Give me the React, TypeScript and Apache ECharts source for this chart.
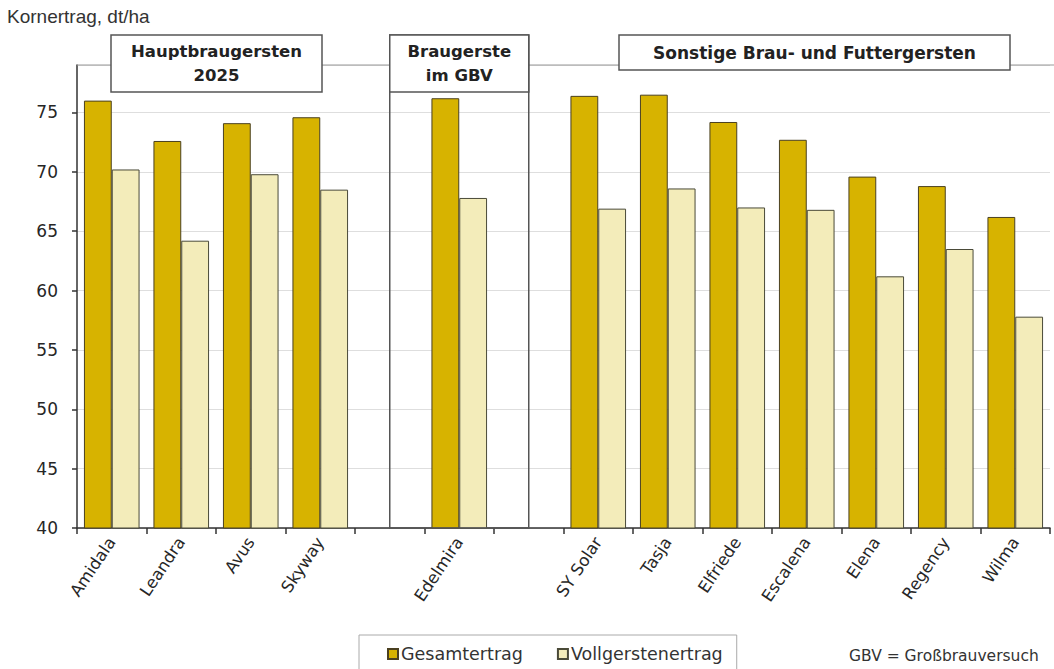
import React, { useEffect, useRef } from "react";
import * as echarts from "echarts";

const categories = [
  "Amidala", "Leandra", "Avus", "Skyway", "", "Edelmira", "",
  "SY Solar", "Tasja", "Elfriede", "Escalena", "Elena", "Regency", "Wilma",
];
const gesamtertrag = [76.0, 72.6, 74.1, 74.6, null, 76.2, null, 76.4, 76.5, 74.2, 72.7, 69.6, 68.8, 66.2];
const vollgerstenertrag = [70.2, 64.2, 69.8, 68.5, null, 67.8, null, 66.9, 68.6, 67.0, 66.8, 61.2, 63.5, 57.8];
const yTicks = { min: 40, max: 79, interval: 5 };

const FONT = "DejaVu Sans, Verdana, sans-serif";

export default function App() {
  const ref = useRef<HTMLDivElement>(null);
  useEffect(() => {
    if (!ref.current) return;
    const chart = echarts.init(ref.current, null, { renderer: "svg" });
    const gridLeft = 77, gridRight = 4, gridTop = 65, gridBottom = 141;
    const plotW = 1054 - gridLeft - gridRight;
    const slot = plotW / categories.length;
    const cx = (i: number) => gridLeft + slot * (i + 0.5);
    const boxStroke = "#555";
    chart.setOption({
      animation: false,
      backgroundColor: "#fff",
      grid: { left: gridLeft, right: gridRight, top: gridTop, bottom: gridBottom },
      xAxis: {
        type: "category",
        data: categories,
        axisLine: { lineStyle: { color: "#333", width: 1.5 } },
        axisTick: { show: true, length: 6, lineStyle: { color: "#333", width: 1.5 } },
        axisLabel: {
          rotate: 56,
          interval: 0,
          fontSize: 16.5,
          fontFamily: FONT,
          color: "#262626",
          margin: 11,
        },
      },
      yAxis: {
        type: "value",
        min: yTicks.min,
        max: yTicks.max,
        interval: yTicks.interval,
        axisLine: { show: true, lineStyle: { color: "#333", width: 1.5 } },
        axisTick: { show: true, length: 5, lineStyle: { color: "#333", width: 1.5 } },
        axisLabel: {
          fontSize: 17,
          fontFamily: FONT,
          color: "#262626",
          margin: 19,
          showMaxLabel: false,
        },
        splitLine: { lineStyle: { color: "#dedede", width: 1 } },
      },
      legend: {
        left: 359,
        top: 635,
        data: ["Gesamtertrag", "Vollgerstenertrag"],
        icon: "rect",
        itemWidth: 10,
        itemHeight: 10,
        itemGap: 34,
        padding: [10, 14, 16, 28],
        borderColor: "#aaa",
        borderWidth: 1,
        textStyle: { fontSize: 17.5, fontFamily: FONT, color: "#333", padding: [0, 0, 0, -2] },
      },
      series: [
        {
          name: "Gesamtertrag",
          type: "bar",
          data: gesamtertrag,
          barGap: "0%",
          barCategoryGap: "20%",
          itemStyle: { color: "#D7B300", borderColor: "#4a4020", borderWidth: 1 },
        },
        {
          name: "Vollgerstenertrag",
          type: "bar",
          data: vollgerstenertrag,
          itemStyle: { color: "#F3ECBA", borderColor: "#4a4a38", borderWidth: 1 },
        },
      ],
      graphic: [
        {
          type: "text",
          left: 7,
          top: 7,
          style: { text: "Kornertrag, dt/ha", fontSize: 19, fontFamily: "Liberation Sans Narrow, Arial Narrow, sans-serif", fill: "#333" },
        },
        {
          type: "line",
          shape: { x1: gridLeft, y1: gridTop, x2: 1054, y2: gridTop },
          style: { stroke: "#999", lineWidth: 1 },
          z: 50,
        },
        // GBV tall frame
        {
          type: "rect",
          shape: { x: cx(4), y: 35, width: cx(6) - cx(4), height: 528 - 35 },
          style: { fill: "none", stroke: boxStroke, lineWidth: 1.5 },
          z: 60,
        },
        {
          type: "rect",
          shape: { x: cx(4), y: 35, width: cx(6) - cx(4), height: 57 },
          style: { fill: "#fff", stroke: boxStroke, lineWidth: 1.5 },
          z: 61,
        },
        {
          type: "text",
          x: (cx(4) + cx(6)) / 2,
          y: 63.5,
          style: {
            text: "Braugerste\nim GBV",
            fontSize: 16.5,
            fontWeight: "bold",
            fontFamily: FONT,
            fill: "#222",
            align: "center",
            verticalAlign: "middle",
            lineHeight: 24,
          },
          z: 62,
        },
        // Hauptbraugersten box
        {
          type: "rect",
          shape: { x: 111, y: 35, width: 211, height: 57 },
          style: { fill: "#fff", stroke: boxStroke, lineWidth: 1.5 },
          z: 61,
        },
        {
          type: "text",
          x: 216.5,
          y: 63.5,
          style: {
            text: "Hauptbraugersten\n2025",
            fontSize: 16.5,
            fontWeight: "bold",
            fontFamily: FONT,
            fill: "#222",
            align: "center",
            verticalAlign: "middle",
            lineHeight: 24,
          },
          z: 62,
        },
        // Sonstige box
        {
          type: "rect",
          shape: { x: 619, y: 35, width: 391, height: 35 },
          style: { fill: "#fff", stroke: boxStroke, lineWidth: 1.5 },
          z: 61,
        },
        {
          type: "text",
          x: 814.5,
          y: 53,
          style: {
            text: "Sonstige Brau- und Futtergersten",
            fontSize: 17,
            fontWeight: "bold",
            fontFamily: FONT,
            fill: "#222",
            align: "center",
            verticalAlign: "middle",
          },
          z: 62,
        },
        {
          type: "text",
          left: 849,
          top: 648,
          style: { text: "GBV = Großbrauversuch", fontSize: 15.5, fontFamily: FONT, fill: "#333" },
        },
      ],
    });
    return () => chart.dispose();
  }, []);
  return (
    <div
      ref={ref}
      style={{ position: "fixed", left: 0, top: 0, width: 1054, height: 669, background: "#fff" }}
    />
  );
}
